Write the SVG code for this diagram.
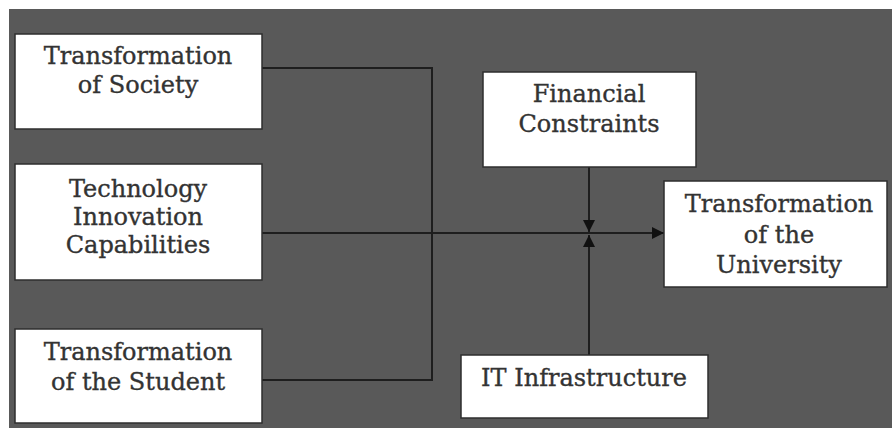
<svg xmlns="http://www.w3.org/2000/svg" width="892" height="428" viewBox="0 0 892 428">
  <style>
    .box { fill: #ffffff; stroke: #2e2e2e; stroke-width: 1.5; }
    .lbl { font-family: "DejaVu Serif", "Liberation Serif", serif; font-size: 24px; fill: #333333; stroke: #333333; stroke-width: 0.35; text-anchor: middle; }
    .wire { fill: none; stroke: #1e1e1e; stroke-width: 2; }
  </style>
  <defs>
    <marker id="arrow" viewBox="0 0 10 10" refX="10" refY="5" markerWidth="12" markerHeight="12" markerUnits="userSpaceOnUse" orient="auto">
      <path d="M0,0 L10,5 L0,10 Z" fill="#111111"/>
    </marker>
  </defs>

  <rect x="0" y="0" width="892" height="428" fill="#ffffff"/>
  <rect x="9" y="9" width="883" height="419" fill="#595959"/>

  <g id="connectors">
    <path class="wire" d="M262,68 H432 V380 H262"/>
    <path class="wire" d="M262,233 H664" marker-end="url(#arrow)"/>
    <path class="wire" d="M589,167 V232" marker-end="url(#arrow)"/>
    <path class="wire" d="M589,355 V235" marker-end="url(#arrow)"/>
  </g>

  <g id="society">
    <rect class="box" x="15" y="34" width="247" height="95"/>
    <text class="lbl" x="138" y="64">Transformation</text>
    <text class="lbl" x="138" y="93">of Society</text>
  </g>

  <g id="technology">
    <rect class="box" x="15" y="164" width="247" height="116"/>
    <text class="lbl" x="138" y="197">Technology</text>
    <text class="lbl" x="138" y="225">Innovation</text>
    <text class="lbl" x="138" y="253">Capabilities</text>
  </g>

  <g id="student">
    <rect class="box" x="15" y="329" width="247" height="94"/>
    <text class="lbl" x="138" y="360">Transformation</text>
    <text class="lbl" x="138" y="390">of the Student</text>
  </g>

  <g id="financial">
    <rect class="box" x="483" y="72" width="213" height="95"/>
    <text class="lbl" x="589" y="102">Financial</text>
    <text class="lbl" x="589" y="132">Constraints</text>
  </g>

  <g id="university">
    <rect class="box" x="664" y="181" width="223" height="106"/>
    <text class="lbl" x="779" y="212">Transformation</text>
    <text class="lbl" x="779" y="243">of the</text>
    <text class="lbl" x="779" y="273">University</text>
  </g>

  <g id="infrastructure">
    <rect class="box" x="461" y="355" width="247" height="63"/>
    <text class="lbl" x="584" y="386">IT Infrastructure</text>
  </g>
</svg>
